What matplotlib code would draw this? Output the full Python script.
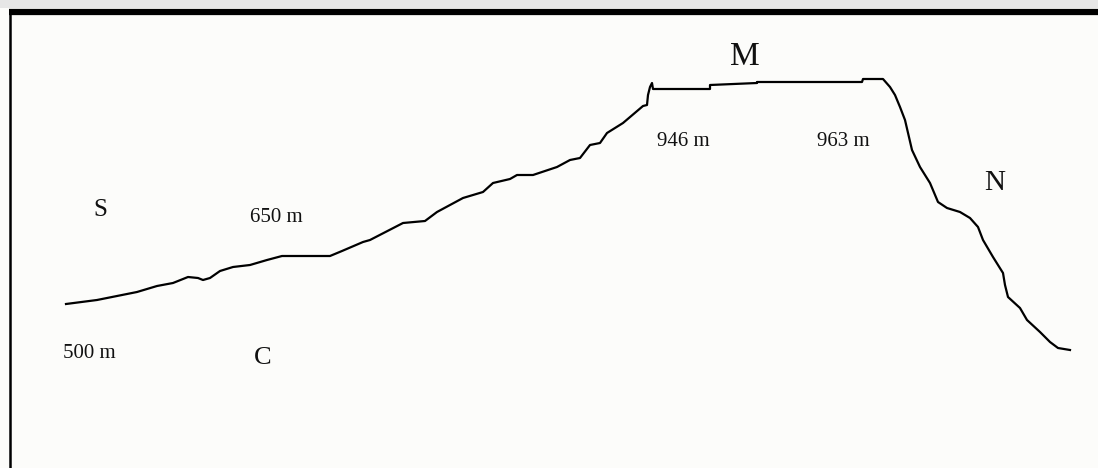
import matplotlib.pyplot as plt

# terrain profile S -> M -> N, traced in picture units (x right, y down)
dist = [66, 97, 137, 157, 173, 188, 198, 203, 210, 220, 233, 250, 267, 282, 330,
        342, 363, 370, 403, 425, 437, 463, 483, 493, 510, 517, 533, 557, 570,
        580, 590, 600, 607, 623, 643, 647,
        648, 650, 652, 653, 710, 710, 757, 757, 862, 863, 883, 890, 895, 900,
        905, 912, 920, 930, 938, 947, 960, 970, 978, 983, 993, 1003, 1005,
        1008, 1020, 1027, 1040, 1050, 1058, 1070]
height = [304, 300, 292, 286, 283, 277, 278, 280, 278, 271, 267, 265, 260, 256, 256,
          251, 242, 240, 223, 221, 212, 198, 192, 183, 179, 175, 175, 167, 160,
          158, 145, 143, 133, 123, 106, 105,
          95, 87, 83, 89, 89, 85, 83, 82, 82, 79, 79, 87, 95, 107,
          120, 150, 167, 183, 202, 208, 212, 218, 227, 240, 257, 273, 285,
          297, 308, 320, 332, 342, 348, 350]

labels = ['M', 'N', 'S', 'C', '946 m', '963 m', '650 m', '500 m']
label_x = [745, 995, 100, 263, 683, 843, 276, 89]
label_y = [57, 183, 210, 358, 142, 142, 217, 354]
label_size = [24, 21, 18, 19, 15, 15, 15, 15]

fig = plt.figure(figsize=(10.98, 4.68), dpi=100, facecolor='#fcfcfa')
ax = fig.add_axes([0, 0, 1, 1])
ax.set_facecolor('#fcfcfa')
ax.set_xlim(0, 1098)
ax.set_ylim(468, 0)
ax.axis('off')

# frame: grey strip, thick top rule, thin left rule
ax.axhspan(0, 8, color='#e6e6e6', lw=0)
ax.plot([9, 1098], [11.5, 11.5], color='black', lw=4.5, solid_capstyle='butt')
ax.plot([10, 10], [10, 468], color='black', lw=1.8, solid_capstyle='butt')

ax.plot(dist, height, color='black', lw=1.6)

for t, x, y, s in zip(labels, label_x, label_y, label_size):
    ax.text(x, y, t, fontsize=s, family='Liberation Serif', fontstretch='condensed',
            ha='center', va='center', color='#111111')

fig.savefig('out.png', dpi=100, facecolor=fig.get_facecolor())
